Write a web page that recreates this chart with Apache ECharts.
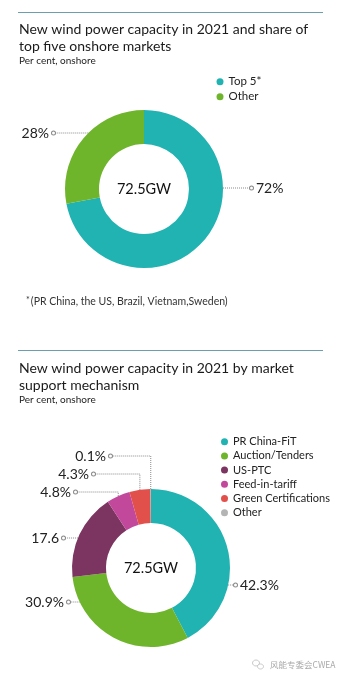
<!DOCTYPE html>
<html><head><meta charset="utf-8">
<script src="https://cdn.jsdelivr.net/npm/echarts@6/dist/echarts.min.js"></script>
<style>html,body{margin:0;padding:0;background:#fff}#c{width:344px;height:680px}</style>
</head><body><div id="c"></div>
<script>
// ---- data ----
const marketNames = ['Top 5*', 'Other'];
const marketShares = [72, 28];
const marketLabels = ['72%', '28%'];
const mechanismNames = ['PR China-FiT', 'Auction/Tenders', 'US-PTC', 'Feed-in-tariff', 'Green Certifications', 'Other'];
const mechanismShares = [42.3, 30.9, 17.6, 4.8, 4.3, 0.1];
const mechanismLabels = ['42.3%', '30.9%', '17.6', '4.8%', '4.3%', '0.1%'];
const totalCapacity = '72.5GW';
const title1 = 'New wind power capacity in 2021 and share of\ntop five onshore markets';
const title2 = 'New wind power capacity in 2021 by market\nsupport mechanism';
const subtitle = 'Per cent, onshore';
const footnote = '(PR China, the US, Brazil, Vietnam,Sweden)';
const watermark = '风能专委会CWEA';

// ---- styles / layout ----
const FONT = 'Lato, "Open Sans", sans-serif';
const COLORS1 = ['#21b2b2', '#6fb52c'];
const COLORS2 = ['#21b2b2', '#6fb52c', '#7b3560', '#c2489c', '#e2504c', '#b4b4b4'];
const PIE1 = {cx: 144, cy: 189, r0: 45, r: 79};
const PIE2 = {cx: 151, cy: 568, r0: 45, r: 79};
const LAB1 = [
  {x: 250, y: 188, side: 'right', mode: 'h'},
  {x: 55, y: 133, side: 'left', mode: 'h'}
];
const LAB2 = [
  {x: 234, y: 585, side: 'right', mode: 'h'},
  {x: 70, y: 602, side: 'left', mode: 'h'},
  {x: 65, y: 538, side: 'left', mode: 'h'},
  {x: 77, y: 492, side: 'left', mode: 'v'},
  {x: 95, y: 474, side: 'left', mode: 'v'},
  {x: 112, y: 456, side: 'left', mode: 'v'}
];

function makeLayout(pie, specs) {
  return function (p) {
    const s = specs[p.dataIndex];
    let pts;
    if (s.mode === 'h') {
      const dy = s.y - pie.cy;
      const dx = Math.sqrt(Math.max(pie.r * pie.r - dy * dy, 0));
      const ax = s.side === 'left' ? pie.cx - dx : pie.cx + dx;
      pts = [[ax, s.y], [s.x, s.y]];
    } else {
      const p0 = (p.labelLinePoints && p.labelLinePoints[0]) || [p.rect.x + p.rect.width / 2, p.rect.y];
      pts = [[p0[0], p0[1]], [p0[0], s.y], [s.x, s.y]];
    }
    return {x: s.x, y: s.y, align: s.side === 'left' ? 'right' : 'left', verticalAlign: 'middle', labelLinePoints: pts};
  };
}
function makeFormatter(specs, labels) {
  return function (p) {
    const t = labels[p.dataIndex];
    return specs[p.dataIndex].side === 'left' ? '{t|' + t + '}{g|}{c|}' : '{c|}{g|}{t|' + t + '}';
  };
}
const RICH = {
  t: {fontSize: 14, color: '#222', fontFamily: FONT},
  g: {width: 3},
  c: {width: 3, height: 3, borderRadius: 3, borderWidth: 1, borderColor: '#888', backgroundColor: '#fff', verticalAlign: 'middle'}
};
function pieSeries(pie, names, values, colors, specs, labels) {
  return {
    type: 'pie', center: [pie.cx, pie.cy], radius: [pie.r0, pie.r],
    startAngle: 90, clockwise: true, avoidLabelOverlap: false, silent: true,
    color: colors,
    data: names.map((n, i) => ({name: n, value: values[i], itemStyle: {color: colors[i]}})),
    label: {show: true, position: 'outside', formatter: makeFormatter(specs, labels), rich: RICH},
    labelLine: {show: true, lineStyle: {color: '#8a8a8a', width: 1, type: 'dotted'}},
    labelLayout: makeLayout(pie, specs),
    itemStyle: {borderWidth: 0},
    emphasis: {disabled: true}
  };
}
function legendData(names, colors) {
  return names.map((n, i) => ({name: n, icon: 'circle', itemStyle: {color: colors[i]}}));
}
const legendText1 = {fontSize: 11.5, lineHeight: 14, color: '#222', fontFamily: FONT};
const legendText2 = {fontSize: 11, lineHeight: 14, color: '#222', fontFamily: FONT};
const titleStyle = {fontSize: 14, lineHeight: 17, fontWeight: 'normal', color: '#1a1a1a', fontFamily: FONT};
const subStyle = {fontSize: 10, lineHeight: 12, color: '#222', fontFamily: FONT};

const chart = echarts.init(document.getElementById('c'), null, {renderer: 'canvas'});
chart.setOption({
  animation: false,
  backgroundColor: '#fff',
  title: [
    {text: title1, subtext: subtitle, left: 19, top: 20.5, padding: 0, itemGap: 0, textStyle: titleStyle, subtextStyle: subStyle},
    {text: title2, subtext: subtitle, left: 19, top: 359.8, padding: 0, itemGap: 0, textStyle: titleStyle, subtextStyle: subStyle}
  ],
  legend: [
    {data: legendData(marketNames, COLORS1), orient: 'vertical', left: 216.5, top: 74.7, padding: 0,
     itemWidth: 7, itemHeight: 7, itemGap: 1, selectedMode: false, textStyle: legendText1},
    {data: legendData(mechanismNames, COLORS2), orient: 'vertical', left: 221, top: 434.7, padding: 0,
     itemWidth: 7, itemHeight: 7, itemGap: 0.2, selectedMode: false, textStyle: legendText2}
  ],
  series: [
    pieSeries(PIE1, marketNames, marketShares, COLORS1, LAB1, marketLabels),
    pieSeries(PIE2, mechanismNames, mechanismShares, COLORS2, LAB2, mechanismLabels)
  ],
  graphic: [
    {type: 'line', shape: {x1: 18, y1: 12.5, x2: 323, y2: 12.5}, style: {stroke: '#6a9fae', lineWidth: 1}, silent: true},
    {type: 'line', shape: {x1: 18, y1: 350.5, x2: 323, y2: 350.5}, style: {stroke: '#6a9fae', lineWidth: 1}, silent: true},
    {type: 'text', x: PIE1.cx, y: PIE1.cy, silent: true,
     style: {text: totalCapacity, align: 'center', verticalAlign: 'middle', fontSize: 14.5, fill: '#111', fontFamily: FONT}},
    {type: 'text', x: PIE2.cx, y: PIE2.cy, silent: true,
     style: {text: totalCapacity, align: 'center', verticalAlign: 'middle', fontSize: 14.5, fill: '#111', fontFamily: FONT}},
    {type: 'text', x: 26, y: 302, silent: true,
     style: {text: '{s|*}{t|' + footnote + '}', verticalAlign: 'middle', fontFamily: FONT,
       rich: {s: {fontSize: 9, verticalAlign: 'top', fill: '#333', fontFamily: FONT, padding: [0, 1, 4, 0]},
              t: {fontSize: 10.5, fill: '#333', fontFamily: FONT}}}},
    {type: 'ellipse', shape: {cx: 256, cy: 663, rx: 3.5, ry: 3}, style: {fill: 'none', stroke: '#bbb', lineWidth: 0.8}, silent: true},
    {type: 'ellipse', shape: {cx: 260.5, cy: 666.5, rx: 3, ry: 2.5}, style: {fill: '#fff', stroke: '#bbb', lineWidth: 0.8}, silent: true},
    {type: 'text', x: 270, y: 665, silent: true,
     style: {text: watermark, verticalAlign: 'middle', fontSize: 8.5, fill: '#aaa', fontFamily: '"Noto Sans CJK SC", sans-serif'}}
  ]
});
</script></body></html>
